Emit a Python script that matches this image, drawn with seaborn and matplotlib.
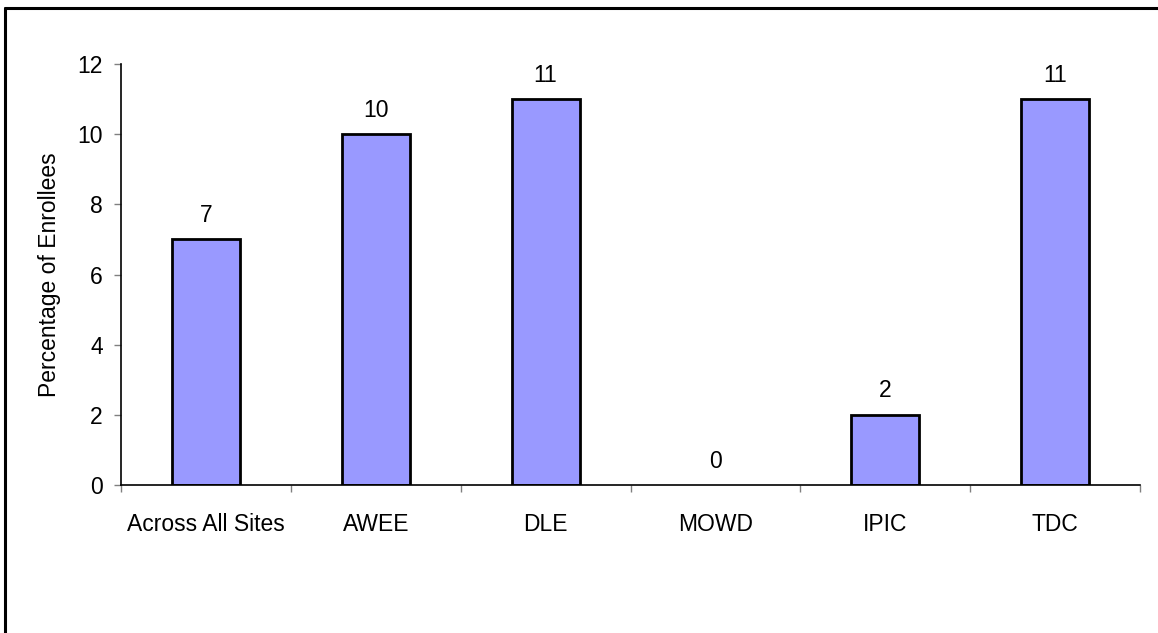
import numpy as np
import pandas as pd
import matplotlib
matplotlib.use("Agg")
import matplotlib.pyplot as plt
from matplotlib.lines import Line2D
import seaborn as sns

# ── data ─────────────────────────────────────────────
sites = ["Across All Sites", "AWEE", "DLE", "MOWD", "IPIC", "TDC"]
pct = [7, 10, 11, 0, 2, 11]

df = pd.DataFrame({"site": sites, "pct": pct})

sns.set_style("white", {"text.color": "black", "axes.labelcolor": "black",
                        "xtick.color": "black", "ytick.color": "black"})
plt.rcParams["font.family"] = ["Liberation Sans", "DejaVu Sans"]
FS = 16.5

fig = plt.figure(figsize=(11.58, 6.33), dpi=100)
ax = fig.add_axes([0.1045, 0.2338, 0.88, 0.665])

sns.barplot(data=df, x="site", y="pct", color="#9999FF", saturation=1,
            width=0.4, edgecolor="black", linewidth=2, ax=ax)

# a zero-height bar shows no outline in the original
for p in ax.patches:
    if p.get_height() == 0:
        p.set_linewidth(0)

# value labels over bars
for i, v in enumerate(pct):
    ax.annotate(str(v), (i, v), xytext=(0, 9), textcoords="offset points",
                ha="center", va="bottom", fontsize=FS, color="black")

ax.set_xlim(-0.5, len(sites) - 0.5)
ax.set_ylim(0, 12)
ax.set_yticks(range(0, 13, 2))
ax.set_ylabel("Percentage of Enrollees", fontsize=FS, labelpad=12, color="black")
ax.set_xlabel("")

# ticks at category boundaries, labels centred under bars
ax.set_xticks(np.arange(-0.5, len(sites), 1.0))
ax.set_xticklabels([])
ax.set_xticks(range(len(sites)), minor=True)
ax.set_xticklabels(sites, minor=True, fontsize=FS)
ax.tick_params(axis="x", which="major", direction="out", length=5,
               width=1, color="#808080", bottom=True)
ax.tick_params(axis="x", which="minor", length=0, pad=20, labelcolor="black")
ax.tick_params(axis="y", direction="out", length=5, width=1,
               color="#808080", left=True, labelsize=FS, pad=8,
               labelcolor="black")

sns.despine(ax=ax)
for s in ["left", "bottom"]:
    ax.spines[s].set_color("black")
    ax.spines[s].set_linewidth(1.2)

# outer frame (left and top edges visible)
fig.add_artist(Line2D([0.0043, 0.0043], [0, 0.988], transform=fig.transFigure,
                      color="black", linewidth=2.2))
fig.add_artist(Line2D([0.0043, 1.0], [0.988, 0.988], transform=fig.transFigure,
                      color="black", linewidth=2.2))

fig.savefig("out.png", dpi=100)
plt.close(fig)
